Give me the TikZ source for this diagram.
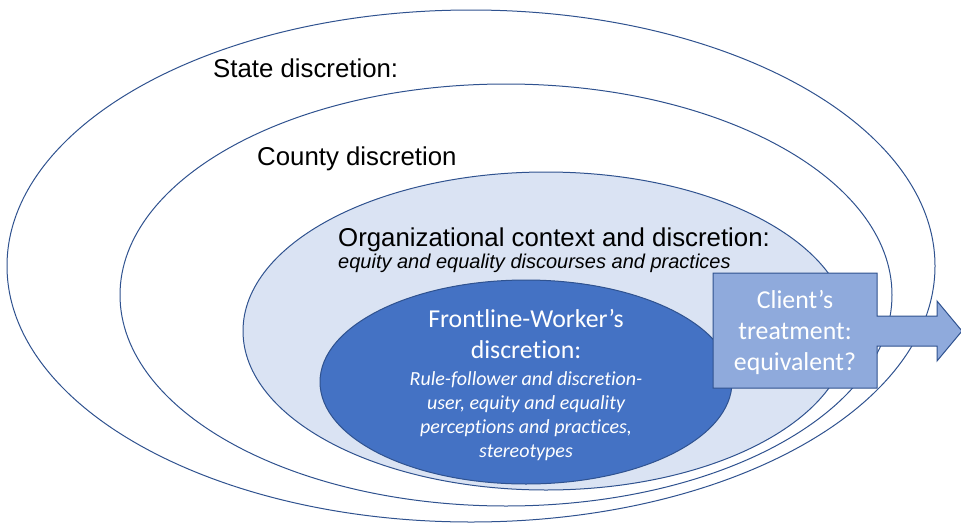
\documentclass[tikz,border=0pt]{standalone}
\usepackage{fontspec}
\setmainfont{Liberation Sans}
\newfontfamily\carlito[Ligatures=NoCommon]{Carlito}
\usetikzlibrary{positioning}

\definecolor{ringblue}{HTML}{2F528F}
\definecolor{orgblue}{HTML}{DAE3F3}
\definecolor{workerblue}{HTML}{4472C4}
\definecolor{clientblue}{HTML}{8FAADC}

\begin{document}
\begin{tikzpicture}[x=1pt,y=-1pt,every text node part/.style={align=center}]
		\tikzstyle{ring}=[draw=ringblue, line width=1pt]
		\tikzstyle{outertext}=[anchor=base west, inner sep=0pt,
							font=\fontsize{25.8}{31}\selectfont]
		\tikzstyle{innertext}=[inner sep=0pt, text=white,
							font=\carlito\fontsize{25.8}{31.5}\selectfont]
		\tikzstyle{smalltext}=[inner sep=0pt, text=white,
							font=\carlito\itshape\fontsize{20}{24}\selectfont]

		\useasboundingbox (0,0) rectangle (961,522);

		% rings
		\draw[ring] (471,266) ellipse [x radius=464pt, y radius=256pt];
		\draw[ring] (506,295) ellipse [x radius=386pt, y radius=211pt];
		\draw[ring, fill=orgblue] (546,331) ellipse [x radius=303pt, y radius=159pt];
		\draw[ring, fill=workerblue] (526,382) ellipse [x radius=206pt, y radius=102pt];

		% outer labels
		\node[outertext] (state) at (213,77) {State discretion:};
		\node[outertext] (county) at (257,165) {County discretion};
		\node[outertext] (org) at (338,246) {Organizational context and discretion:};
		\node[outertext, font=\itshape\fontsize{20}{24}\selectfont] (orgsub) at (338,268)
			{equity and equality discourses and practices};

		% worker
		\node[innertext] (worker) at (526,334) {Frontline-Worker’s\\discretion:};
		\node[smalltext, below=12pt of worker] (workersub)
			{Rule-follower and discretion-\\user, equity and equality\\perceptions and practices,\\stereotypes};

		% client arrow
		\draw[draw=ringblue, line width=1pt, fill=clientblue]
			(713,273) -- (877,273) -- (877,316) -- (937,316) -- (937,301) -- (962,331)
			-- (937,361) -- (937,346) -- (877,346) -- (877,388) -- (713,388) -- cycle;
		\node[innertext, font=\carlito\fontsize{25.8}{31}\selectfont] (client) at (795,332)
			{Client’s\\treatment:\\equivalent?};

\end{tikzpicture}
\end{document}
